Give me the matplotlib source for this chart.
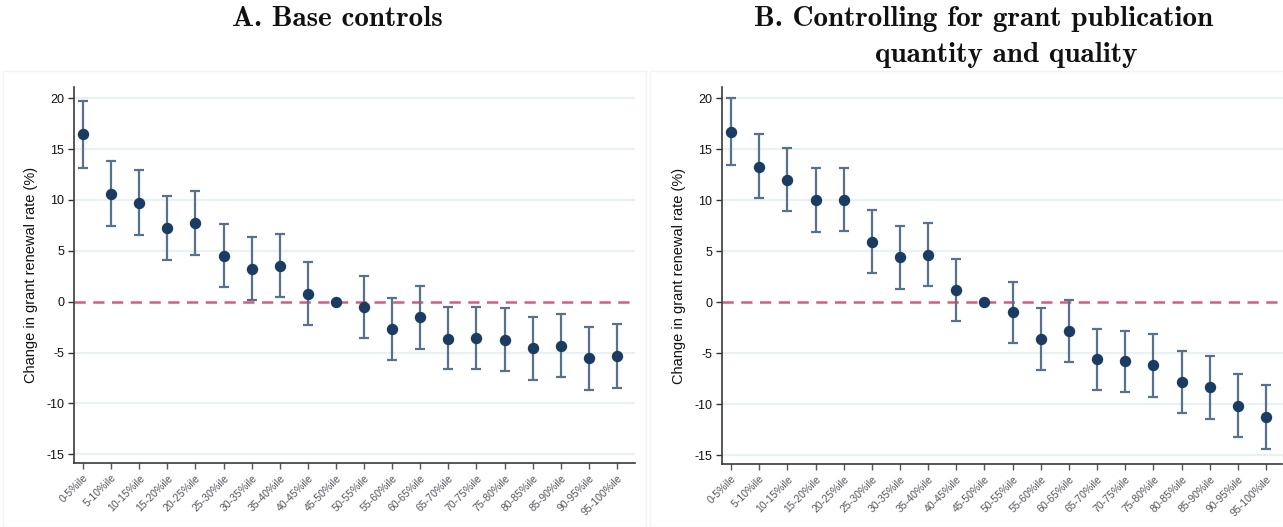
import matplotlib
matplotlib.use("Agg")
import matplotlib.pyplot as plt
import numpy as np
from matplotlib.patches import Rectangle

categories = ["0-5%ile", "5-10%ile", "10-15%ile", "15-20%ile", "20-25%ile",
              "25-30%ile", "30-35%ile", "35-40%ile", "40-45%ile", "45-50%ile",
              "50-55%ile", "55-60%ile", "60-65%ile", "65-70%ile", "70-75%ile",
              "75-80%ile", "80-85%ile", "85-90%ile", "90-95%ile", "95-100%ile"]

# Panel A: base controls
a_est = [16.44, 10.59, 9.71, 7.25, 7.71, 4.54, 3.24, 3.53, 0.78, 0.0,
         -0.49, -2.71, -1.53, -3.62, -3.59, -3.75, -4.56, -4.34, -5.58, -5.38]
a_lo = [13.14, 7.42, 6.60, 4.12, 4.61, 1.44, 0.16, 0.49, -2.28, 0.0,
        -3.52, -5.74, -4.63, -6.65, -6.62, -6.85, -7.66, -7.40, -8.64, -8.51]
a_hi = [19.74, 13.82, 12.91, 10.42, 10.88, 7.68, 6.37, 6.67, 3.86, 0.0,
        2.55, 0.39, 1.54, -0.52, -0.52, -0.65, -1.50, -1.21, -2.48, -2.15]

# Panel B: controlling for grant publication quantity and quality
b_est = [16.73, 13.30, 11.99, 10.03, 10.03, 5.92, 4.41, 4.67, 1.18, 0.0,
         -0.98, -3.59, -2.81, -5.59, -5.78, -6.18, -7.78, -8.33, -10.13, -11.24]
b_lo = [13.46, 10.20, 8.92, 6.93, 6.96, 2.84, 1.34, 1.60, -1.83, 0.0,
        -3.99, -6.60, -5.82, -8.59, -8.82, -9.25, -10.85, -11.40, -13.17, -14.38]
b_hi = [20.00, 16.50, 15.10, 13.17, 13.14, 9.02, 7.48, 7.75, 4.22, 0.0,
        1.99, -0.56, 0.26, -2.58, -2.78, -3.07, -4.74, -5.29, -7.06, -8.07]

yticks = [20, 15, 10, 5, 0, -5, -10, -15]
ylabel = "Change in grant renewal rate (%)"

W, H = 1283, 527
fig = plt.figure(figsize=(W / 100, H / 100), dpi=100)

def px_rect(x0, y0, x1, y1):
    return [x0 / W, 1 - y1 / H, (x1 - x0) / W, (y1 - y0) / H]

# faint panel borders
for (x0, x1) in [(3, 646), (650, 1283)]:
    fig.patches.append(Rectangle((x0 / W, 0), (x1 - x0) / W, 1 - 71 / H,
                                 transform=fig.transFigure, fill=False,
                                 edgecolor="#f3f3f3", lw=1.0))

marker_c = "#1a3c63"
bar_c = "#57728f"
grid_c = "#e9f1f2"
zero_c = "#d95b7f"

def panel(rect, est, lo, hi, xlim):
    ax = fig.add_axes(rect)
    x = np.arange(len(categories))
    est = np.array(est); lo = np.array(lo); hi = np.array(hi)
    for yt in yticks:
        if yt != 0:
            ax.axhline(yt, color=grid_c, lw=1.6, zorder=0)
    ax.axhline(0, color=zero_c, lw=1.8, ls=(0, (4.5, 3)), zorder=1)
    ax.errorbar(x, est, yerr=[est - lo, hi - est], fmt="none",
                ecolor=bar_c, elinewidth=1.6, capsize=3.8, capthick=1.6, zorder=2)
    ax.plot(x, est, "o", color=marker_c, ms=7.2, zorder=3)
    ax.set_xlim(*xlim)
    ax.set_ylim(-15.85, 21.1)
    ax.set_yticks(yticks)
    ax.set_yticklabels([str(v) for v in yticks], fontsize=9, color="#111111",
                       family="Liberation Sans")
    ax.set_xticks(x)
    ax.set_xticklabels(categories, rotation=45, ha="right", rotation_mode="anchor",
                       fontsize=7.6, color="#555560", family="Liberation Sans")
    ax.tick_params(axis="y", length=4, width=1.0, color="#333333", pad=3)
    ax.tick_params(axis="x", length=4, width=1.0, color="#555555", pad=3)
    for s in ["top", "right"]:
        ax.spines[s].set_visible(False)
    for s in ["left", "bottom"]:
        ax.spines[s].set_color("#3a3a3a")
        ax.spines[s].set_linewidth(1.2)
    ax.set_ylabel(ylabel, fontsize=10.5, family="Liberation Sans", color="#111111",
                  labelpad=6)
    ax.set_facecolor("none")
    return ax

axA = panel(px_rect(74, 87, 635, 463), a_est, a_lo, a_hi, (-0.32, 19.64))
axB = panel(px_rect(722, 87, 1283, 464), b_est, b_lo, b_hi, (-0.32, 19.6))

tfont = dict(family="cmb10", fontsize=21, color="#111111", ha="center", va="center")
fig.text(337 / W, 1 - 19 / H, "A. Base controls", **tfont)
fig.text(984 / W, 1 - 19 / H, "B. Controlling for grant publication", **tfont)
fig.text(1006 / W, 1 - 55 / H, "quantity and quality", **tfont)

fig.savefig("out.png", dpi=100, facecolor="white")
